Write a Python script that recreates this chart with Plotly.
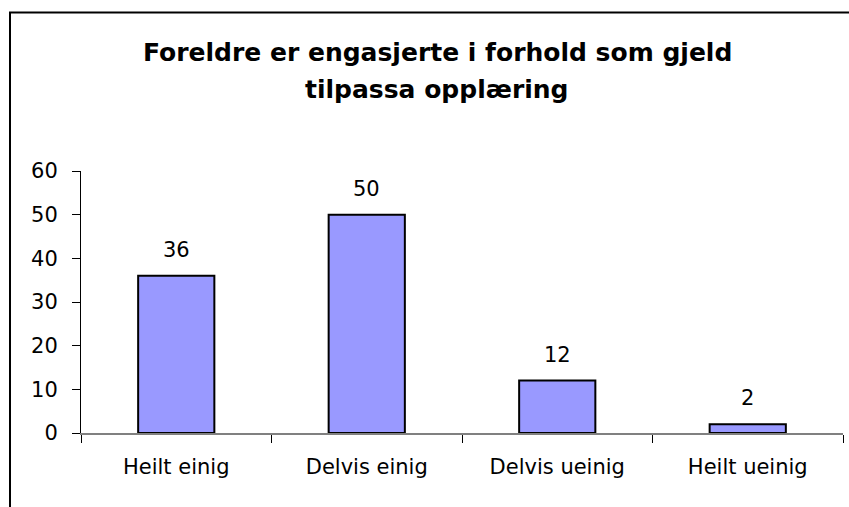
import plotly.graph_objects as go

categories = ["Heilt einig", "Delvis einig", "Delvis ueinig", "Heilt ueinig"]
values = [36, 50, 12, 2]
title_lines = ["Foreldre er engasjerte i forhold som gjeld", "tilpassa opplæring"]
y_ticks = [0, 10, 20, 30, 40, 50, 60]

W, H = 849, 507
L, R, T, B = 81, 6, 171, 74
pw, ph = W - L - R, H - T - B

def px_x(p):
    return (p - L) / pw

def px_y(p):
    return (H - B - p) / ph

FONT = "DejaVu Sans"

fig = go.Figure(go.Bar(
    x=categories, y=values,
    marker=dict(color="#9999FF", line=dict(color="black", width=2)),
    width=0.4,
    hoverinfo="skip",
))

ann = []
for xv, yv in zip(categories, values):
    ann.append(dict(x=xv, y=yv, text=str(yv), showarrow=False, yanchor="bottom",
                    yshift=12, font=dict(family=FONT, size=21, color="black")))
for line, cy in zip(title_lines, [52, 89]):
    ann.append(dict(xref="paper", yref="paper", x=px_x(437), y=px_y(cy), text="<b>%s</b>" % line,
                    showarrow=False, xanchor="center", yanchor="middle",
                    font=dict(family=FONT, size=25, color="black")))

fig.update_layout(
    width=W, height=H,
    margin=dict(l=L, r=R, t=T, b=B, pad=0),
    paper_bgcolor="white", plot_bgcolor="white",
    showlegend=False,
    annotations=ann,
    shapes=[dict(type="rect", xref="paper", yref="paper",
                 x0=px_x(10), x1=px_x(880), y0=px_y(520), y1=px_y(12.5),
                 line=dict(color="black", width=2), fillcolor="rgba(0,0,0,0)", layer="below")],
    xaxis=dict(showgrid=False, showline=True, linecolor="#808080", linewidth=2,
               ticks="outside", tickson="boundaries", ticklen=8, tickcolor="black", tickwidth=1,
               tickfont=dict(family=FONT, size=21, color="black"), ticklabelstandoff=14,
               zeroline=False),
    yaxis=dict(range=[0, 60], tickvals=y_ticks, showgrid=False, showline=True,
               linecolor="black", linewidth=1, ticks="outside", ticklen=8,
               tickcolor="black", tickwidth=1, zeroline=False,
               tickfont=dict(family=FONT, size=21, color="black"), ticklabelstandoff=10),
)

fig.write_html("out.html", config={"displayModeBar": False},
               post_script="document.body.style.margin='0';document.body.style.padding='0';")
